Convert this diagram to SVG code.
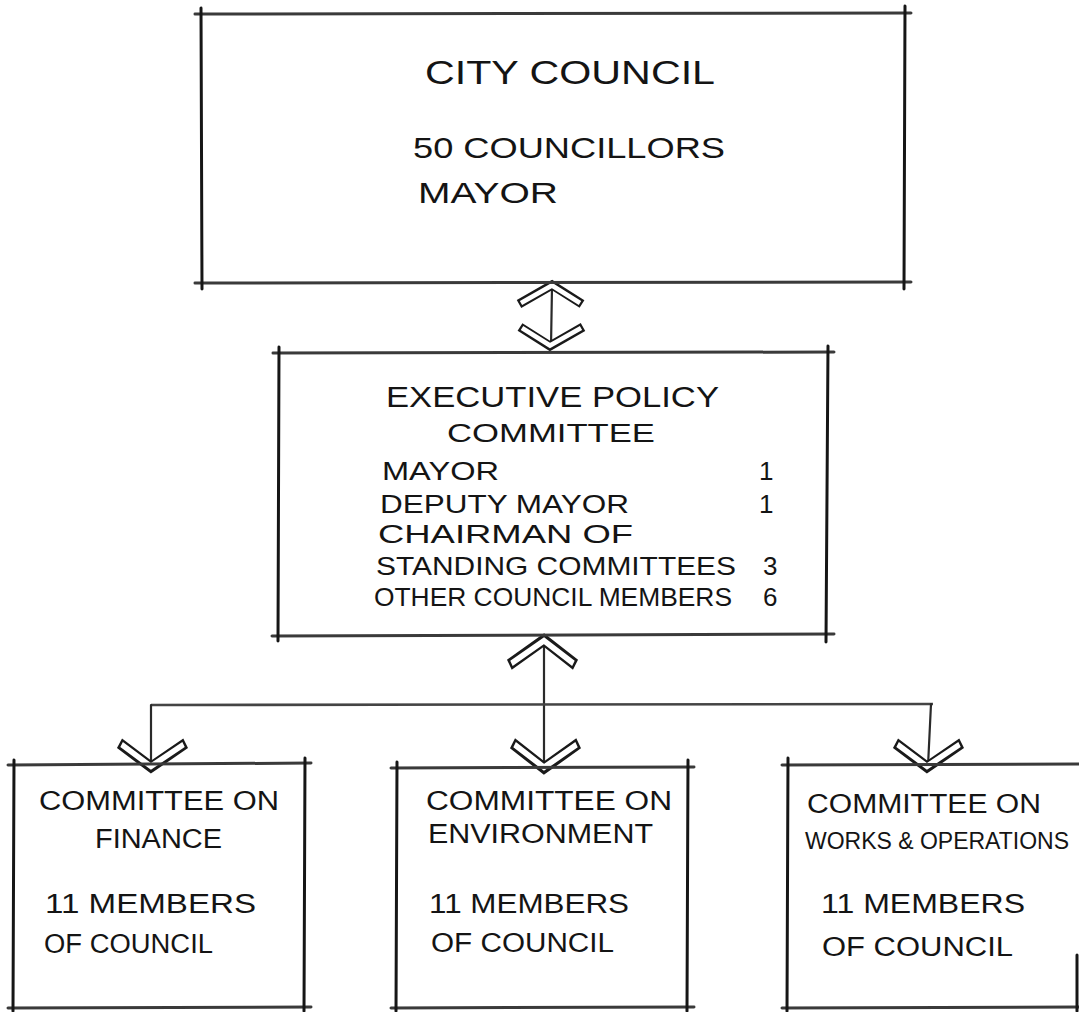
<svg xmlns="http://www.w3.org/2000/svg" width="1079" height="1012" viewBox="0 0 1079 1012">
  <style>
    .edge-h { stroke: #3a3a3a; stroke-width: 3; fill: none; stroke-linecap: round; }
    .edge-v { stroke: #161616; stroke-width: 3; fill: none; stroke-linecap: round; }
    .wire { stroke: #2a2a2a; stroke-width: 2.2; fill: none; stroke-linecap: round; }
    .wire-h { stroke: #444; stroke-width: 2.6; fill: none; }
    .head-out { stroke: #1a1a1a; stroke-width: 9; fill: none; stroke-linejoin: miter; stroke-linecap: butt; }
    .head-in { stroke: #ffffff; stroke-width: 4.6; fill: none; stroke-linejoin: miter; stroke-linecap: butt; }
    text { font-family: "Liberation Sans", "DejaVu Sans", sans-serif; fill: #141414; }
    .t-big { font-size: 34px; }
    .t-mid { font-size: 30px; }
    .t-row { font-size: 26px; }
    .t-sub { font-size: 27px; }
    .t-small { font-size: 23px; }
  </style>
  <defs>
    <!-- hollow open chevron, apex at origin, opening downward -->
    <g id="chev-up">
      <path class="head-out" d="M-33,19 L0,0 L30,19"/>
      <path class="head-in" d="M-31,18 L0,0.5 L28,18"/>
    </g>
  </defs>
  <rect width="1079" height="1012" fill="#ffffff"/>

  <!-- connectors -->
  <g id="connectors">
    <!-- council <-> executive policy committee -->
    <path class="wire" d="M552,287 L551,346"/>
    <use href="#chev-up" transform="translate(552,285)"/>
    <use href="#chev-up" transform="translate(550,346) rotate(180)"/>

    <!-- executive committee -> standing committees -->
    <path class="wire" d="M544,641 L544,767"/>
    <use href="#chev-up" transform="translate(544,640) scale(1.05,1.3)"/>
    <path class="wire-h" d="M151,705 L933,704"/>
    <path class="wire" d="M151,705 L151,766"/>
    <path class="wire" d="M931,704 L928,766"/>
    <use href="#chev-up" transform="translate(151,767) rotate(180) scale(1.05,1.25)"/>
    <use href="#chev-up" transform="translate(544,768) rotate(180) scale(1.05,1.3)"/>
    <use href="#chev-up" transform="translate(927,767) rotate(180) scale(1.05,1.25)"/>
  </g>

  <!-- city council -->
  <g id="city-council">
    <path class="edge-h" d="M195,14 L911,13"/>
    <path class="edge-h" d="M195,283 L911,282"/>
    <path class="edge-v" d="M201,8 L202,289"/>
    <path class="edge-v" d="M905,6 L904,289"/>
    <text class="t-big" x="425" y="84" textLength="290" lengthAdjust="spacingAndGlyphs">CITY COUNCIL</text>
    <text class="t-mid" x="413" y="158" textLength="312" lengthAdjust="spacingAndGlyphs">50 COUNCILLORS</text>
    <text class="t-mid" x="418" y="203" textLength="140" lengthAdjust="spacingAndGlyphs">MAYOR</text>
  </g>

  <!-- executive policy committee -->
  <g id="executive-policy-committee">
    <path class="edge-h" d="M273,353 L834,352"/>
    <path class="edge-h" d="M272,636 L834,634"/>
    <path class="edge-v" d="M279,347 L278,641"/>
    <path class="edge-v" d="M828,346 L826,642"/>
    <text class="t-mid" x="386" y="407" textLength="333" lengthAdjust="spacingAndGlyphs">EXECUTIVE  POLICY</text>
    <text class="t-row" x="447" y="442" textLength="208" lengthAdjust="spacingAndGlyphs">COMMITTEE</text>
    <text class="t-row" x="382" y="480" textLength="117" lengthAdjust="spacingAndGlyphs">MAYOR</text>
    <text class="t-row" x="380" y="513" textLength="249" lengthAdjust="spacingAndGlyphs">DEPUTY  MAYOR</text>
    <text class="t-row" x="378" y="543" textLength="255" lengthAdjust="spacingAndGlyphs">CHAIRMAN  OF</text>
    <text class="t-row" x="376" y="575" textLength="360" lengthAdjust="spacingAndGlyphs">STANDING COMMITTEES</text>
    <text class="t-row" x="374" y="606" textLength="358" lengthAdjust="spacingAndGlyphs">OTHER COUNCIL MEMBERS</text>
    <text class="t-row" x="759" y="480">1</text>
    <text class="t-row" x="759" y="513">1</text>
    <text class="t-row" x="763" y="575">3</text>
    <text class="t-row" x="763" y="606">6</text>
  </g>

  <!-- committee on finance -->
  <g id="committee-finance">
    <path class="edge-h" d="M8,765 L311,763"/>
    <path class="edge-h" d="M8,1008 L311,1007"/>
    <path class="edge-v" d="M14,760 L13,1011"/>
    <path class="edge-v" d="M305,758 L304,1011"/>
    <text class="t-sub" x="39" y="810" textLength="240" lengthAdjust="spacingAndGlyphs">COMMITTEE ON</text>
    <text class="t-sub" x="95" y="848" textLength="127" lengthAdjust="spacingAndGlyphs">FINANCE</text>
    <text class="t-sub" x="45" y="913" textLength="211" lengthAdjust="spacingAndGlyphs">11  MEMBERS</text>
    <text class="t-sub" x="44" y="953" textLength="169" lengthAdjust="spacingAndGlyphs">OF COUNCIL</text>
  </g>

  <!-- committee on environment -->
  <g id="committee-environment">
    <path class="edge-h" d="M391,768 L694,767"/>
    <path class="edge-h" d="M391,1008 L694,1007"/>
    <path class="edge-v" d="M397,762 L396,1011"/>
    <path class="edge-v" d="M688,760 L687,1011"/>
    <text class="t-sub" x="426" y="810" textLength="246" lengthAdjust="spacingAndGlyphs">COMMITTEE ON</text>
    <text class="t-sub" x="428" y="843" textLength="225" lengthAdjust="spacingAndGlyphs">ENVIRONMENT</text>
    <text class="t-sub" x="429" y="913" textLength="200" lengthAdjust="spacingAndGlyphs">11 MEMBERS</text>
    <text class="t-sub" x="431" y="952" textLength="183" lengthAdjust="spacingAndGlyphs">OF  COUNCIL</text>
  </g>

  <!-- committee on works and operations -->
  <g id="committee-works">
    <path class="edge-h" d="M782,765 L1079,764"/>
    <path class="edge-h" d="M782,1008 L1079,1007"/>
    <path class="edge-v" d="M788,758 L787,1011"/>
    <path class="edge-v" d="M1077,955 L1077,1011"/>
    <text class="t-sub" x="807" y="813" textLength="234" lengthAdjust="spacingAndGlyphs">COMMITTEE  ON</text>
    <text class="t-small" x="805" y="849" textLength="264" lengthAdjust="spacingAndGlyphs">WORKS &amp; OPERATIONS</text>
    <text class="t-sub" x="821" y="913" textLength="204" lengthAdjust="spacingAndGlyphs">11  MEMBERS</text>
    <text class="t-sub" x="822" y="956" textLength="191" lengthAdjust="spacingAndGlyphs">OF  COUNCIL</text>
  </g>
</svg>
